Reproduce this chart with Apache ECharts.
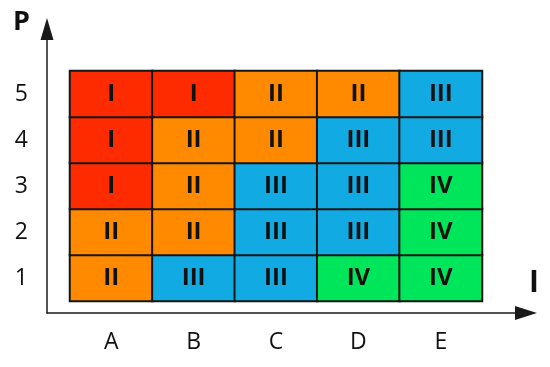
<!DOCTYPE html>
<html lang="en">
<head>
    <meta charset="UTF-8">
    <title>Risk matrix</title>
    <script src="https://cdn.jsdelivr.net/npm/echarts@6/dist/echarts.min.js"></script>
    <style>
        html, body { margin: 0; padding: 0; background: #fff; }
    </style>
</head>
<body>
<div id="main" style="width: 550px;height:367px;"></div>
<script type="text/javascript">
    // impact (I) categories and probability (P) levels
    var impact = ['A', 'B', 'C', 'D', 'E'];
    var prob = ['1', '2', '3', '4', '5'];
    var romans = ['I', 'II', 'III', 'IV'];
    // class of each cell, rows from P=1 up to P=5, columns A..E
    var row1 = [2, 3, 3, 4, 4];
    var row2 = [2, 2, 3, 3, 4];
    var row3 = [1, 2, 3, 3, 4];
    var row4 = [1, 2, 2, 3, 3];
    var row5 = [1, 1, 2, 2, 3];
    var classColors = ['#ff2b00', '#ff8a00', '#12aae2', '#00e65a'];

    var rows = [row1, row2, row3, row4, row5];
    var cells = [];
    for (var r = 0; r < rows.length; r++) {
        for (var c = 0; c < rows[r].length; c++) {
            cells.push([c, r, rows[r][c]]);
        }
    }

    var font = '"Open Sans", "DejaVu Sans", sans-serif';
    var myChart = echarts.init(document.getElementById('main'));
    myChart.setOption({
        animation: false,
        grid: [
            {left: 70, right: 68, top: 71, bottom: 66},
            {left: 47, right: 24, top: 29, bottom: 54}
        ],
        xAxis: [
            {
                type: 'category', gridIndex: 0, data: impact,
                axisLine: {show: false}, axisTick: {show: false},
                axisLabel: {margin: 30, fontSize: 23, color: '#111', fontFamily: font},
                splitLine: {show: false}
            },
            {
                type: 'value', gridIndex: 1, min: 0, max: 1,
                axisLine: {
                    show: true, symbol: ['none', 'triangle'], symbolSize: [14, 22],
                    lineStyle: {color: '#1a1a1a', width: 1.5}
                },
                axisTick: {show: false}, axisLabel: {show: false}, splitLine: {show: false}
            }
        ],
        yAxis: [
            {
                type: 'category', gridIndex: 0, data: prob,
                axisLine: {show: false}, axisTick: {show: false},
                axisLabel: {margin: 42, fontSize: 23, color: '#111', fontFamily: font},
                splitLine: {show: false}
            },
            {
                type: 'value', gridIndex: 1, min: 0, max: 1,
                axisLine: {
                    show: true, symbol: ['none', 'triangle'], symbolSize: [13, 22],
                    lineStyle: {color: '#1a1a1a', width: 1.5}
                },
                axisTick: {show: false}, axisLabel: {show: false}, splitLine: {show: false}
            }
        ],
        visualMap: {
            show: false,
            type: 'piecewise',
            dimension: 2,
            seriesIndex: 0,
            pieces: [
                {value: 1, color: classColors[0]},
                {value: 2, color: classColors[1]},
                {value: 3, color: classColors[2]},
                {value: 4, color: classColors[3]}
            ]
        },
        graphic: [
            {type: 'text', left: 13, top: 9, style: {text: 'P', font: 'bold 27px ' + font, fill: '#111'}},
            {type: 'text', left: 529, top: 268, style: {text: 'I', font: 'bold 30px ' + font, fill: '#111'}}
        ],
        series: [{
            type: 'heatmap',
            xAxisIndex: 0,
            yAxisIndex: 0,
            data: cells,
            itemStyle: {borderColor: '#151515', borderWidth: 2},
            label: {
                show: true,
                formatter: function (p) { return romans[p.value[2] - 1]; },
                fontSize: 24,
                fontWeight: 'bold',
                fontFamily: font,
                color: '#111'
            },
            emphasis: {disabled: true}
        }]
    });
</script>
</body>
</html>
